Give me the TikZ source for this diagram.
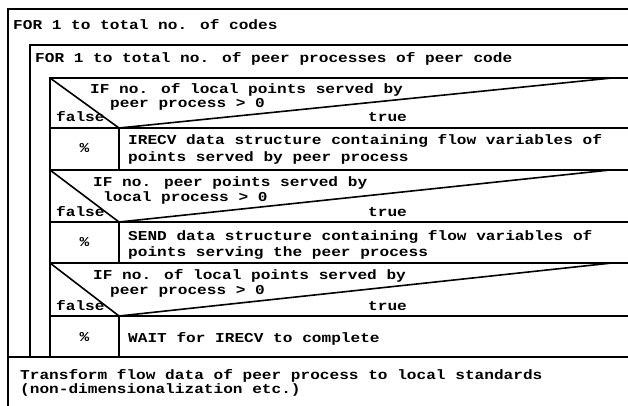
\documentclass[tikz,border=0pt]{standalone}
\usepackage{fontspec}
\newfontfamily\cf[FakeStretch=1.185]{Liberation Mono}
\begin{document}
\begin{tikzpicture}[x=1pt,y=-1pt,
  ln/.style={line width=1.6pt},
  tx/.style={anchor=base west,inner sep=0pt,font=\cf\bfseries\fontsize{13.6}{16}\selectfont},
  pc/.style={anchor=base,inner sep=0pt,font=\cf\bfseries\fontsize{13.6}{16}\selectfont}]
\useasboundingbox (0,0) rectangle (628,406);
% outer loop
\draw[ln] (628,9) -- (8,9) -- (8,406);
\node[tx] (t1) at (13,30) {FOR 1 to total no. of codes};
% inner loop
\draw[ln] (628,45) -- (30,45) -- (30,357);
\node[tx] (t2) at (35,63) {FOR 1 to total no. of peer processes of peer code};
% IF blocks frame
\draw[ln] (628,78) -- (50,78) -- (50,357);
\draw[ln] (119,128) -- (119,170);
\draw[ln] (119,222) -- (119,263);
\draw[ln] (119,316) -- (119,357);
% IF 1
\draw[ln] (50,78) -- (119,128) -- (612,78);
\draw[ln] (50,128) -- (628,128);
\node[tx] (c1a) at (90,94) {IF no. of local points served by};
\node[tx] (c1b) at (110,108) {peer process > 0};
\node[tx] (f1) at (56,122) {false};
\node[tx] (tr1) at (368,122) {true};
\draw[ln] (50,170) -- (628,170);
\node[pc] (p1) at (84.5,153) {\%};
\node[tx] (a1a) at (128,145) {IRECV data structure containing flow variables of};
\node[tx] (a1b) at (128,161) {points served by peer process};
% IF 2
\draw[ln] (50,170) -- (119,222) -- (610,170);
\draw[ln] (50,222) -- (628,222);
\node[tx] (c2a) at (93,186) {IF no. peer points served by};
\node[tx] (c2b) at (103,201) {local process > 0};
\node[tx] (f2) at (56,216) {false};
\node[tx] (tr2) at (368,216) {true};
\draw[ln] (50,263) -- (628,263);
\node[pc] (p2) at (84.5,246) {\%};
\node[tx] (a2a) at (128,240) {SEND data structure containing flow variables of};
\node[tx] (a2b) at (128,256) {points serving the peer process};
% IF 3
\draw[ln] (50,263) -- (119,316) -- (612,263);
\draw[ln] (50,316) -- (628,316);
\node[tx] (c3a) at (93,279) {IF no. of local points served by};
\node[tx] (c3b) at (110,294) {peer process > 0};
\node[tx] (f3) at (56,310) {false};
\node[tx] (tr3) at (368,310) {true};
\node[pc] (p3) at (84.5,341) {\%};
\node[tx] (a3) at (128,342) {WAIT for IRECV to complete};
% end of inner loop
\draw[ln] (8,357) -- (628,357);
\node[tx] (tf1) at (20,379) {Transform flow data of peer process to local standards};
\node[tx] (tf2) at (20,393) {(non-dimensionalization etc.)};
\end{tikzpicture}
\end{document}
